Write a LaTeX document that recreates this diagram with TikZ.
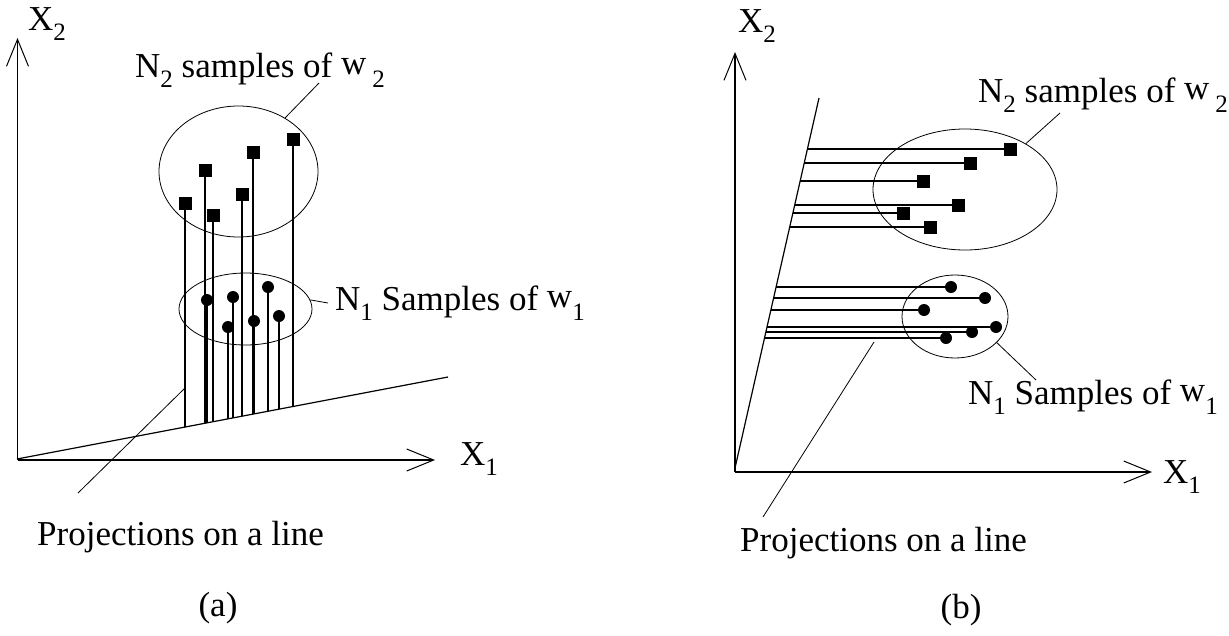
\documentclass[tikz,border=0pt]{standalone}
\usepackage{fontspec}
\setmainfont{Liberation Serif}
\usetikzlibrary{arrows.meta,shapes.geometric}
\newcommand{\lowidx}[1]{\raisebox{-10pt}{\fontsize{25}{25}\selectfont #1}}
\newcommand{\wvar}{\raisebox{3pt}{w}}

\begin{document}
\begin{tikzpicture}[x=1pt,y=-1pt,
    axis/.style={line width=1.5pt,-{Straight Barb[length=27pt,width=22pt,line width=1pt]}},
    sqpt/.style={fill=black,inner sep=0pt,minimum size=13pt},
    rdpt/.style={circle,fill=black,inner sep=0pt,minimum size=12pt},
    proj/.style={line width=1.3pt},
    thinline/.style={line width=0.8pt},
    cloud/.style={ellipse,draw,line width=0.8pt,inner sep=0pt},
    lbl/.style={anchor=base west,inner sep=0pt,font=\fontsize{35}{40}\selectfont}]
    \useasboundingbox (0,0) rectangle (1229,635);

    % ----- (a) projections verticales -----
    % Axes
    \coordinate (oa) at (17.5,460);
    \coordinate (ya) at (17.5,38);
    \coordinate (xa) at (435,460);
    \draw[axis] (oa) -- (ya);
    \draw[axis] (oa) -- (xa);
    \node[lbl] (xa2) at (28,30) {X\lowidx{2}};
    \node[lbl] (xa1) at (460,465) {X\lowidx{1}};
    % Droite de projection
    \coordinate (la) at (17,459);
    \coordinate (lb) at (448,377);
    \draw[line width=1.2pt] (la) -- (lb);
    % Nuages
    \node[cloud,minimum width=159pt,minimum height=131pt] (wa2) at (238.5,171.5) {};
    \node[cloud,minimum width=133pt,minimum height=72pt] (wa1) at (245.5,309) {};
    % Echantillons de w2
    \foreach \i/\x/\y in {1/185/203,2/205/170,3/213/215,4/242/194,5/253/152,6/293/139}{
        \coordinate (ta\i) at (\x,{459-0.19026*(\x-17)});
        \draw[proj] (\x,\y) -- (ta\i);
        \node[sqpt] (sa\i) at (\x,\y) {};
    }
    % Echantillons de w1
    \foreach \i/\x/\y in {1/207/300,2/233/297,3/268/287,4/228/327,5/254/321,6/279/316}{
        \coordinate (ua\i) at (\x,{459-0.19026*(\x-17)});
        \draw[proj] (\x,\y) -- (ua\i);
        \node[rdpt] (ca\i) at (\x,\y) {};
    }
    % Etiquettes
    \coordinate (na2) at (319,83);
    \draw[thinline] (wa2.49) -- (na2);
    \node[lbl] (ta) at (135,77) {N\lowidx{2} samples of \wvar\,\lowidx{2}};
    \coordinate (na1) at (328,303);
    \draw[thinline] (wa1.8) -- (na1);
    \node[lbl] (tb) at (335,310) {N\lowidx{1} Samples of \wvar\lowidx{1}};
    \coordinate (pa1) at (78,493);
    \coordinate (pa2) at (185,388);
    \draw[thinline] (pa1) -- (pa2);
    \node[lbl] (tc) at (37,545) {Projections on a line};
    \node[font=\fontsize{35}{40}\selectfont] (capa) at (218,608) {(a)};

    % ----- (b) projections horizontales -----
    % Axes
    \coordinate (ob) at (735,472);
    \coordinate (yb) at (735,52);
    \coordinate (xb) at (1152,472);
    \draw[axis] (ob) -- (yb);
    \draw[axis] (ob) -- (xb);
    \node[lbl] (xb2) at (738,32) {X\lowidx{2}};
    \node[lbl] (xb1) at (1163,483) {X\lowidx{1}};
    % Droite de projection
    \coordinate (lc) at (735,468);
    \coordinate (ld) at (819,98);
    \draw[line width=1.2pt] (lc) -- (ld);
    % Nuages
    \node[cloud,minimum width=184pt,minimum height=121pt] (wb2) at (965,189.5) {};
    \node[cloud,minimum width=106pt,minimum height=83pt] (wb1) at (955,316.5) {};
    % Echantillons de w2
    \foreach \i/\x/\y in {1/1010/149,2/970/163,3/923/181,4/958/205,5/903/213,6/930/227}{
        \coordinate (tb\i) at ({735+0.227*(468-\y)},\y);
        \draw[proj] (\x,\y) -- (tb\i);
        \node[sqpt] (sb\i) at (\x,\y) {};
    }
    % Echantillons de w1
    \foreach \i/\x/\y in {1/951/287,2/985/298,3/924/310,4/996/327,5/972/332,6/946/338}{
        \coordinate (ub\i) at ({735+0.227*(468-\y)},\y);
        \draw[proj] (\x,\y) -- (ub\i);
        \node[rdpt] (cb\i) at (\x,\y) {};
    }
    % Etiquettes
    \coordinate (nb2) at (1060,113);
    \draw[thinline] (wb2.37) -- (nb2);
    \node[lbl] (td) at (978,102) {N\lowidx{2} samples of \wvar\,\lowidx{2}};
    \coordinate (nb1) at (1036,380);
    \draw[thinline] (wb1.328) -- (nb1);
    \node[lbl] (te) at (968,404) {N\lowidx{1} Samples of \wvar\lowidx{1}};
    \coordinate (pb1) at (763,517);
    \coordinate (pb2) at (874,342);
    \draw[thinline] (pb1) -- (pb2);
    \node[lbl] (tf) at (740,551) {Projections on a line};
    \node[font=\fontsize{35}{40}\selectfont] (capb) at (961,610) {(b)};
\end{tikzpicture}
\end{document}
